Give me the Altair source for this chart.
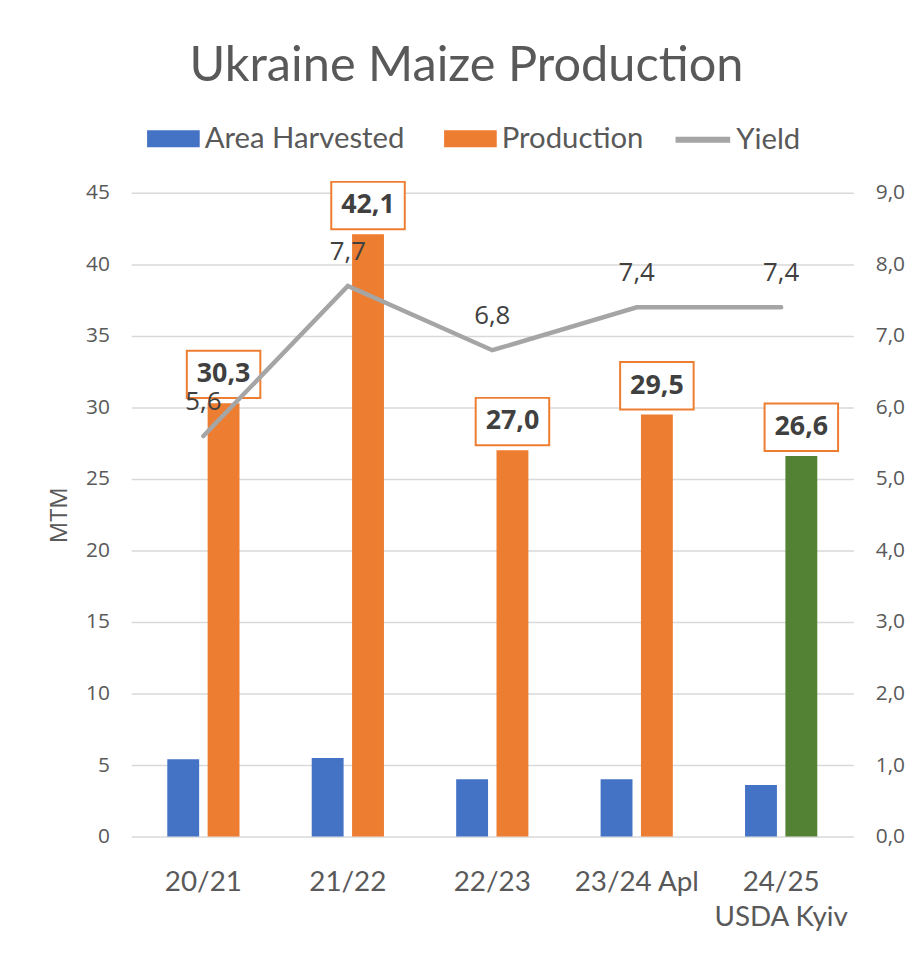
import altair as alt
import pandas as pd

years = ["20/21", "21/22", "22/23", "23/24 Apl", "24/25|USDA Kyiv"]
area_harvested = [5.4, 5.5, 4.0, 4.0, 3.6]
production = [30.3, 42.1, 27.0, 29.5, 26.6]
yield_t_ha = [5.6, 7.7, 6.8, 7.4, 7.4]
bar_series = ["Area Harvested", "Production"]
line_series = ["Yield"]
bar_colors = ["#4472C4", "#ED7D31"]
line_color = "#A5A5A5"
highlight_color = "#548235"
highlight_year = "24/25|USDA Kyiv"
left_ticks = [0, 5, 10, 15, 20, 25, 30, 35, 40, 45]
right_ticks = [0, 1, 2, 3, 4, 5, 6, 7, 8, 9]

bars_df = pd.DataFrame({
    "year": years * 2,
    "series": [bar_series[0]] * len(years) + [bar_series[1]] * len(years),
    "value": area_harvested + production,
})
prod_df = pd.DataFrame({"year": years, "series": bar_series[1], "value": production})
yield_df = pd.DataFrame({"year": years, "series": line_series[0], "value": yield_t_ha})

TXT = "#595959"
LBL = "#404040"
comma_fmt = "replace(format(datum.value, '.1f'), '.', ',')"

x_enc = alt.X(
    "year:N", sort=years,
    scale=alt.Scale(paddingInner=0.5, paddingOuter=0.25),
    axis=alt.Axis(
        title=None, labelAngle=0, labelFont="Lato", labelFontSize=28,
        labelColor=TXT, labelPadding=32, labelLineHeight=36,
        labelExpr="split(datum.label, '|')", domain=False, ticks=False, grid=False,
    ),
)
xoff = alt.XOffset("series:N", scale=alt.Scale(domain=bar_series, paddingInner=0.21, paddingOuter=0))

y_left = alt.Y(
    "value:Q",
    scale=alt.Scale(domain=[0, 45], nice=False),
    axis=alt.Axis(
        values=left_ticks, title="MTM", titleFont="Open Sans", titleFontSize=24,
        titleFontWeight="normal", titleColor=TXT, titlePadding=14,
        labelFont="Open Sans", labelFontSize=21, labelColor=TXT, labelPadding=22,
        domain=False, ticks=False, gridColor="#D9D9D9", gridWidth=1.5,
    ),
)

bars = alt.Chart(bars_df).mark_bar().encode(
    x=x_enc,
    xOffset=xoff,
    y=y_left,
    color=alt.condition(
        f"datum.series === '{bar_series[1]}' && datum.year === '{highlight_year}'",
        alt.value(highlight_color),
        alt.Color(
            "series:N",
            scale=alt.Scale(domain=bar_series, range=bar_colors),
            legend=alt.Legend(
                title=None, orient="none", legendX=16, legendY=-81, direction="horizontal",
                labelFont="Lato", labelFontSize=29.5, labelColor=TXT, labelOffset=5,
                columnPadding=39, symbolType="M-1,-0.32H1V0.32H-1Z", symbolSize=2809,
                symbolStrokeWidth=0, labelLimit=400,
            ),
        ),
    ),
)

boxes = alt.Chart(prod_df).mark_point(
    shape="M-1,-0.644H1V0.644H-1Z", size=5476, filled=True, fill="white",
    stroke="#ED7D31", strokeWidth=2, opacity=1, yOffset=-29,
).encode(x=x_enc, xOffset=xoff, y=y_left)

prod_text = alt.Chart(prod_df).transform_calculate(label=comma_fmt).mark_text(
    dy=-29, font="Open Sans", fontSize=27, fontWeight="bold", color=LBL, baseline="middle",
).encode(x=x_enc, xOffset=xoff, y=y_left, text="label:N")

y_right = alt.Y(
    "value:Q",
    scale=alt.Scale(domain=[0, 9], nice=False),
    axis=alt.Axis(
        orient="right", values=right_ticks, title=None, labelExpr=comma_fmt,
        labelFont="Open Sans", labelFontSize=21, labelColor=TXT, labelPadding=22,
        domain=False, ticks=False, grid=False,
    ),
)

line = alt.Chart(yield_df).mark_line(strokeWidth=4.5, strokeCap="round").encode(
    x=x_enc,
    y=y_right,
    stroke=alt.Stroke(
        "series:N",
        scale=alt.Scale(domain=line_series, range=[line_color]),
        legend=alt.Legend(
            title=None, orient="none", legendX=545, legendY=-84, direction="horizontal",
            labelFont="Lato", labelFontSize=29.5, labelColor=TXT, labelOffset=3,
            symbolType="stroke", symbolSize=3025, symbolStrokeWidth=6,
        ),
    ),
)

yield_text = alt.Chart(yield_df).transform_calculate(label=comma_fmt).mark_text(
    dy=-34, font="Open Sans", fontSize=26, color=LBL, baseline="middle",
).encode(x=x_enc, y=y_right, text="label:N")

left = alt.layer(bars, boxes, prod_text)
right = alt.layer(line, yield_text)

chart = alt.layer(left, right).resolve_scale(y="independent", xOffset="shared").properties(
    width=727, height=648,
    title=alt.Title(
        "Ukraine Maize Production", font="Lato", fontSize=49, fontWeight="normal",
        color=TXT, anchor="middle", offset=19, dx=-26,
    ),
    padding={"left": 39, "top": 31, "right": 5, "bottom": 5},
).configure_view(stroke=None)

chart.save("out.html", embed_options={"renderer": "svg", "actions": False})
